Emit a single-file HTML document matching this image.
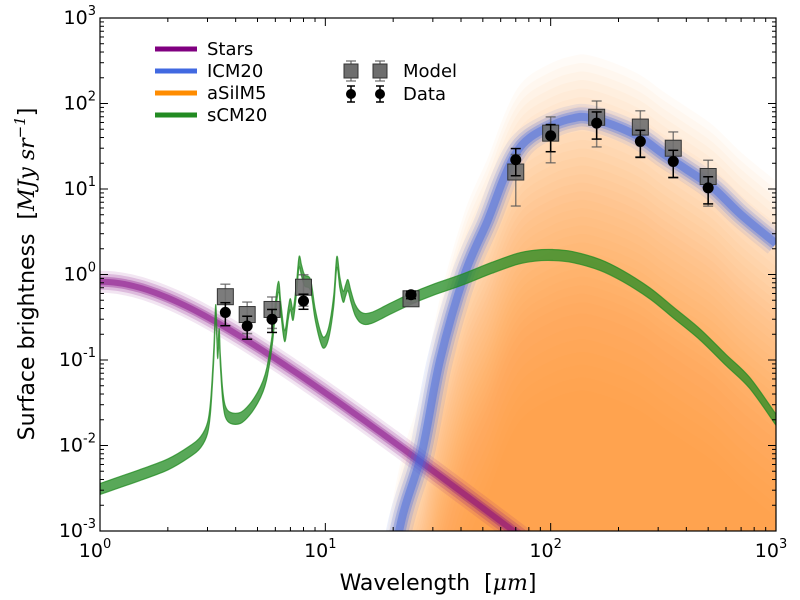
<!DOCTYPE html>
<html><head><meta charset="utf-8"><style>
html,body{margin:0;padding:0;background:#fff;width:800px;height:600px;overflow:hidden}
svg{display:block;font-family:"DejaVu Sans","Liberation Sans",sans-serif}
</style></head><body>
<svg id="chart" width="800" height="600" viewBox="0 0 800 600" xmlns="http://www.w3.org/2000/svg">
<defs><clipPath id="clip"><rect x="100" y="18" width="676" height="513"/></clipPath></defs>
<g id="plot" clip-path="url(#clip)"></g>
<g id="axes"></g>
<text x="438" y="590" text-anchor="middle" font-size="22">Wavelength&#160;&#160;[<tspan font-style="italic" font-family="DejaVu Serif,serif">μm</tspan>]</text>
<text transform="translate(34,274) rotate(-90)" text-anchor="middle" font-size="22">Surface brightness&#160;&#160;[<tspan font-style="italic" font-family="DejaVu Serif,serif">MJy sr</tspan><tspan font-size="15" dy="-9" font-style="italic" font-family="DejaVu Serif,serif">−1</tspan><tspan dy="9">]</tspan></text>
<g id="legend"></g>
</svg>
<script>
const wavelengths = [3.6,4.5,5.8,8.0,24,70,100,160,250,350,500];
const dataValues = [0.36,0.25,0.30,0.49,0.58,22,42,59,36,21,10.3];
const dataErrFrac = [0.3,0.3,0.3,0.2,0.1,0.35,0.35,0.35,0.35,0.35,0.35];
const modelValues = [0.55,0.34,0.39,0.71,0.52,15.8,45,69,53,30,14];
const modelErrFrac = [0.4,0.4,0.4,0.4,0.1,0.6,0.55,0.55,0.55,0.55,0.55];
const greenLam = [1.0,1.5,2.0,2.5,2.8,3.0,3.1,3.2,3.26,3.3,3.33,3.38,3.42,3.5,3.6,3.8,4.2,4.6,5.0,5.3,5.5,5.7,5.85,6.0,6.2,6.35,6.6,6.85,7.0,7.2,7.45,7.65,7.85,8.1,8.6,9.0,9.5,9.9,10.4,10.9,11.25,11.6,12.0,12.3,12.6,13.0,13.6,14.5,16,19.5,24,30,40,55,71,85,102,125,166,210,276,350,459,600,764,1000];
const greenVal = [0.0031,0.0045,0.006,0.0085,0.011,0.016,0.03,0.12,0.38,0.2,0.12,0.2,0.1,0.04,0.025,0.021,0.021,0.026,0.036,0.05,0.07,0.12,0.2,0.4,0.72,0.4,0.19,0.35,0.45,0.34,0.7,1.4,1.1,0.85,0.75,0.35,0.19,0.16,0.22,0.5,1.4,0.8,0.55,0.65,0.75,0.55,0.38,0.31,0.31,0.4,0.52,0.66,0.86,1.2,1.52,1.66,1.69,1.6,1.29,0.95,0.6,0.36,0.2,0.1,0.054,0.02];
const blueLam = [18,21.8,26.8,32.3,41.5,52.6,61.5,70,81,105,125,145,189,250,314,400,526,700,1000];
const blueVal = [0.0001,0.00135,0.0082,0.1,1,4.3,12.7,26,40,58,67,69,56,40,26,17,10.3,5,2.3];
const orangeLogAmp = [0.73,0.63,0.53,0.43,0.33,0.23,0.13,0.03,-0.07,-0.17,-0.27,-0.37,-0.47,-0.57,-0.67,-0.77,-0.87,-0.97,-1.07,-1.17,-1.27,-1.37,-1.47,-1.57,-1.67,-1.77,-1.87,-1.97,-2.07,-2.17,-2.3,-2.45,-2.6,-2.75,-2.9,-3.05,-3.2];
const starTemp = 5000, starPeak = 0.82;
const xTicks = [0,1,2,3];
const yTicks = [-3,-2,-1,0,1,2,3];

const L=100,R=776,T=18,B=531;
const X = l => L + (R-L)/3*Math.log10(l);
const Y = v => B - (B-T)/6*(Math.log10(v)+3);
const NS="http://www.w3.org/2000/svg";
function mk(tag, attrs, parent){const e=document.createElementNS(NS,tag);for(const k in attrs)e.setAttribute(k,attrs[k]);parent.appendChild(e);return e;}
const plot=document.getElementById('plot'), axes=document.getElementById('axes'), leg=document.getElementById('legend');
function spline(pts){
  let d='M'+pts[0][0].toFixed(2)+','+pts[0][1].toFixed(2);
  for(let i=0;i<pts.length-1;i++){
    const p0=pts[Math.max(i-1,0)],p1=pts[i],p2=pts[i+1],p3=pts[Math.min(i+2,pts.length-1)];
    const c1=[p1[0]+(p2[0]-p0[0])/6,p1[1]+(p2[1]-p0[1])/6];
    const c2=[p2[0]-(p3[0]-p1[0])/6,p2[1]-(p3[1]-p1[1])/6];
    d+='C'+c1[0].toFixed(2)+','+c1[1].toFixed(2)+' '+c2[0].toFixed(2)+','+c2[1].toFixed(2)+' '+p2[0].toFixed(2)+','+p2[1].toFixed(2);
  }
  return d;
}
const ptsOf=(ls,vs,k=1,dy=0)=>ls.map((l,i)=>[X(l),Y(vs[i]*k)+dy]);

// orange family
for(const a of orangeLogAmp){
  const k=Math.pow(10,a);
  const d=spline(ptsOf(blueLam,blueVal,k))+'L'+X(1000)+','+(B+5)+'L'+X(18)+','+(B+5)+'Z';
  const p=mk('path',{d,fill:'#ff8c1a','fill-opacity':0.036,stroke:'none'},plot);
  
  
}
function fuzzy(d,color,widths,ops,name){
  widths.forEach((w,i)=>{
    const p=mk('path',{d,fill:'none',stroke:color,'stroke-width':w,'stroke-opacity':ops[i],'stroke-linejoin':'round'},plot);
    
    
  });
}
// stars
const sl=[],sv=[];
const bb=l=>Math.pow(l,-3)/(Math.exp(14388/(l*starTemp))-1);
const ref=bb(1.02);
for(let i=0;i<=80;i++){const l=Math.pow(10,i*2/80);sl.push(l);sv.push(starPeak*bb(l)/ref);}
fuzzy(spline(ptsOf(sl,sv)),'#800080',[22,16,10,6],[0.1,0.18,0.3,0.45],'stars-curve');
// blue
fuzzy(spline(ptsOf(blueLam,blueVal)),'#4169e1',[26,19,13,8],[0.1,0.18,0.3,0.45],'icm20-curve');
// green: vertical band
const up=ptsOf(greenLam,greenVal,1,-5.5), lo=ptsOf(greenLam,greenVal,1,5.5).reverse();
const gd=spline(up)+'L'+lo[0][0]+','+lo[0][1]+spline(lo).slice(1).replace(/^[^C]*/,'')+'Z';
const g=mk('path',{d:gd,fill:'#228b22','fill-opacity':0.75,stroke:'#228b22','stroke-opacity':0.75,'stroke-width':1.2},plot);



// error bars and markers
function errbar(x,v,f,color,op,name){
  const y1=Y(v*(1+f)),y2=Y(Math.max(v*(1-f),1e-4));
  const gg=mk('g',{stroke:color,'stroke-opacity':op,'stroke-width':1.5},plot);
  
  
  mk('line',{x1:x,x2:x,y1,y2},gg);
  mk('line',{x1:x-5,x2:x+5,y1,y2:y1},gg);
  mk('line',{x1:x-5,x2:x+5,y1:y2,y2:y2},gg);
}
wavelengths.forEach((l,i)=>{
  const x=X(l);
  errbar(x,modelValues[i],modelErrFrac[i],'#555',0.7,'model-errorbar');
  const s=mk('rect',{x:x-8,y:Y(modelValues[i])-8,width:16,height:16,fill:'#6e6e6e','fill-opacity':0.9,stroke:'#333','stroke-width':1},plot);
  
  
  errbar(x,dataValues[i],dataErrFrac[i],'#000',1,'data-errorbar');
  const c=mk('circle',{cx:x,cy:Y(dataValues[i]),r:5.5,fill:'#000'},plot);
  
  
});

// axes
const fr=mk('rect',{x:L,y:T,width:R-L,height:B-T,fill:'none',stroke:'#000','stroke-width':1.2},axes);


function tick(x1,y1,x2,y2){const t=mk('line',{x1,y1,x2,y2,stroke:'#000','stroke-width':1},axes);}
for(let d=0;d<3;d++)for(let m=2;m<=9;m++){const x=X(m*Math.pow(10,d));tick(x,B,x,B-4);tick(x,T,x,T+4);}
for(let d=-3;d<3;d++)for(let m=2;m<=9;m++){const y=Y(m*Math.pow(10,d));tick(L,y,L+4,y);tick(R,y,R-4,y);}
xTicks.forEach(e=>{const x=X(Math.pow(10,e));tick(x,B,x,B-8);tick(x,T,x,T+8);
  const t=mk('text',{x:x-5,y:B+26,'text-anchor':'middle','font-size':19},axes);t.innerHTML='10<tspan font-size="13" dy="-9">'+e+'</tspan>';
  });
yTicks.forEach(e=>{const y=Y(Math.pow(10,e));tick(L,y,L+8,y);tick(R,y,R-8,y);
  const t=mk('text',{x:L-4,y:y+6,'text-anchor':'end','font-size':19},axes);t.innerHTML='10<tspan font-size="13" dy="-9">'+(e<0?'-'+(-e):e)+'</tspan>';
  });

// legend
[['Stars','#800080',49],['ICM20','#4169e1',71],['aSilM5','#ff8c00',93],['sCM20','#228b22',115]].forEach(([n,c,y])=>{
  const ln=mk('line',{x1:155,x2:197,y1:y,y2:y,stroke:c,'stroke-width':5},leg);
  
  const t=mk('text',{x:207,y:y+6,'font-size':18},leg);t.textContent=n;
  
});
[351,380].forEach(x=>{
  const a=mk('g',{stroke:'#555','stroke-opacity':0.7,'stroke-width':1.5},leg);
  
  mk('line',{x1:x,x2:x,y1:61,y2:81},a);mk('line',{x1:x-5,x2:x+5,y1:61,y2:61},a);mk('line',{x1:x-5,x2:x+5,y1:81,y2:81},a);
  const s=mk('rect',{x:x-7,y:64,width:14,height:14,fill:'#6e6e6e',stroke:'#333'},leg);
  
  const b=mk('g',{stroke:'#000','stroke-width':1.5},leg);
  
  mk('line',{x1:x,x2:x,y1:86,y2:102},b);mk('line',{x1:x-4,x2:x+4,y1:86,y2:86},b);mk('line',{x1:x-4,x2:x+4,y1:102,y2:102},b);
  const c=mk('circle',{cx:x,cy:94,r:5,fill:'#000'},leg);
  
});
const tm=mk('text',{x:403,y:77,'font-size':18},leg);tm.textContent='Model';

const td=mk('text',{x:403,y:100,'font-size':18},leg);td.textContent='Data';

</script>
</body></html>
